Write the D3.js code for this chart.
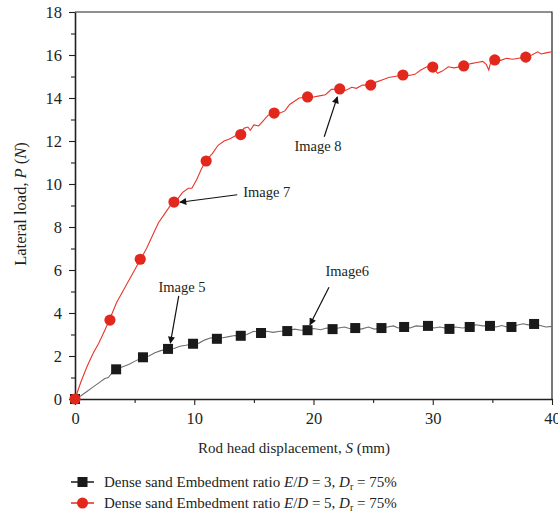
<!DOCTYPE html>
<html>
<head>
<meta charset="utf-8">
<script src="https://cdn.jsdelivr.net/npm/d3@7"></script>
<style>
  body { margin: 0; background: #fff; }
  text { font-family: "Liberation Serif", "DejaVu Serif", serif; fill: #231f20; }
</style>
</head>
<body>
<div id="chart"></div>
<script>
// axis ticks
const xMajor = [0, 10, 20, 30, 40];
const xMinor = [5, 15, 25, 35];
const yMajor = [0, 2, 4, 6, 8, 10, 12, 14, 16, 18];
const yMinor = [1, 3, 5, 7, 9, 11, 13, 15, 17];

// E/D = 5 curve (red)
const redLine = [
  [0,0],[0.5,0.8],[1,1.5],[1.5,2.1],[2,2.6],[2.5,3.2],[2.9,3.7],[3.5,4.5],[4,5.0],[4.5,5.5],
  [5,6.0],[5.5,6.5],[6,7.0],[6.5,7.6],[7,8.2],[7.5,8.6],[8,9.0],[8.4,9.15],[9,9.6],[9.5,9.8],
  [9.8,9.8],[10.2,10.2],[10.6,10.7],[11,11.1],[11.5,11.4],[12,11.8],[12.5,12.0],[13,12.1],
  [13.8,12.35],[14.2,12.6],[14.5,12.65],[14.7,12.5],[15,12.75],[15.4,12.7],[15.8,12.95],
  [16.2,13.2],[16.7,13.3],[17.2,13.3],[17.6,13.4],[18,13.7],[18.4,13.85],[18.8,14.0],
  [19.5,14.05],[20,14.05],[20.5,14.1],[21,14.15],[21.5,14.4],[22.2,14.42],[22.7,14.35],
  [23.2,14.5],[23.6,14.45],[24.1,14.6],[24.8,14.6],[25.3,14.75],[25.8,14.85],[26.3,14.95],
  [26.8,15.0],[27.5,15.07],[28,15.05],[28.5,15.1],[29,15.3],[29.5,15.45],[30,15.44],
  [30.4,15.15],[30.8,15.25],[31.3,15.45],[31.8,15.4],[32.6,15.49],[33.2,15.6],[33.7,15.65],
  [34.2,15.7],[34.5,15.55],[34.7,15.3],[34.9,15.75],[35.2,15.77],[35.7,15.75],[36.2,15.85],
  [36.7,15.8],[37.2,15.85],[37.8,15.9],[38.3,16.0],[38.8,16.15],[39.1,16.05],[39.5,16.1],[40,16.15]
];
const redMarks = [
  [0,0],[2.93,3.67],[5.47,6.5],[8.3,9.16],[11.0,11.07],[13.9,12.3],[16.7,13.3],[19.5,14.05],
  [22.2,14.42],[24.8,14.6],[27.5,15.07],[30.0,15.44],[32.6,15.49],[35.2,15.77],[37.8,15.9]
];

// E/D = 3 curve (black / grey)
const blackLine = [
  [0,0],[0.5,0.15],[1,0.35],[1.5,0.55],[2,0.75],[2.5,0.95],[2.8,1.0],[3,1.15],[3.45,1.38],
  [4,1.5],[4.5,1.6],[5,1.75],[5.7,1.94],[6.2,2.0],[6.7,2.15],[7.2,2.25],[7.8,2.33],[8.3,2.35],
  [8.8,2.45],[9.3,2.5],[9.9,2.57],[10.4,2.6],[10.9,2.75],[11.4,2.85],[11.9,2.8],[12.4,2.85],
  [12.9,2.9],[13.4,2.95],[13.9,2.94],[14.4,3.0],[15,3.15],[15.6,3.07],[16.1,3.15],[16.6,3.1],
  [17.2,3.15],[17.8,3.16],[18.4,3.25],[19,3.2],[19.5,3.2],[20,3.28],[20.6,3.22],[21.1,3.3],
  [21.6,3.25],[22.1,3.3],[22.6,3.35],[23,3.28],[23.5,3.3],[24,3.25],[24.6,3.35],[25.1,3.25],
  [25.7,3.3],[26.2,3.35],[26.7,3.4],[27.1,3.3],[27.6,3.35],[28.1,3.3],[28.6,3.4],[29.1,3.38],
  [29.6,3.4],[30.1,3.3],[30.6,3.35],[31.4,3.26],[31.9,3.35],[32.5,3.3],[33.1,3.35],[33.6,3.45],
  [34.2,3.4],[34.8,3.4],[35.3,3.35],[35.8,3.42],[36.2,3.35],[36.6,3.35],[37.2,3.45],[37.6,3.5],
  [38,3.45],[38.5,3.49],[39,3.42],[39.5,3.35],[40,3.38]
];
const blackMarks = [
  [0,0],[3.45,1.38],[5.7,1.94],[7.8,2.33],[9.9,2.57],[11.9,2.8],[13.9,2.94],[15.6,3.07],
  [17.8,3.16],[19.5,3.2],[21.6,3.25],[23.5,3.3],[25.7,3.3],[27.6,3.35],[29.6,3.4],[31.4,3.26],
  [33.1,3.35],[34.8,3.4],[36.6,3.35],[38.5,3.49]
];

// annotations: label, label position and arrow (data coords)
const notes = [
  { label: 'Image 5', tx: 7.0, ty: 5.0, from: [8.7, 4.8], to: [8.0, 2.6] },
  { label: 'Image6', tx: 21.0, ty: 5.7, from: [21.3, 5.2], to: [19.7, 3.45] },
  { label: 'Image 7', tx: 14.1, ty: 9.4, from: [13.6, 9.5], to: [8.8, 9.15] },
  { label: 'Image 8', tx: 18.4, ty: 11.55, from: [20.9, 12.2], to: [22.0, 14.05] }
];

const legendItems = [
  { ed: '3', shape: 'square', color: '#1a1a1a' },
  { ed: '5', shape: 'circle', color: '#e2281c' }
];

const W = 558, H = 515;
const margin = { left: 75, top: 12, right: 6, bottom: 116 };
const innerW = W - margin.left - margin.right;
const innerH = H - margin.top - margin.bottom;

const svg = d3.select('#chart').append('svg')
  .attr('width', W).attr('height', H);

const defs = svg.append('defs');
defs.append('marker')
  .attr('id', 'arrow')
  .attr('viewBox', '0 0 10 10')
  .attr('refX', 9).attr('refY', 5)
  .attr('markerWidth', 9).attr('markerHeight', 7)
  .attr('markerUnits', 'userSpaceOnUse')
  .attr('orient', 'auto')
  .append('path').attr('d', 'M0,0L10,5L0,10Z').attr('fill', '#111');

const g = svg.append('g').attr('transform', `translate(${margin.left},${margin.top})`);

const x = d3.scaleLinear().domain([0, 40]).range([0, innerW]);
const y = d3.scaleLinear().domain([0, 18]).range([innerH, 0]);

// frame top / right
g.append('path')
  .attr('d', `M0,0H${innerW}V${innerH}`)
  .attr('fill', 'none').attr('stroke', '#231f20').attr('stroke-width', 1.2);

// x axis
g.append('g').attr('transform', `translate(0,${innerH})`)
  .call(d3.axisBottom(x).tickValues(xMajor).tickSize(6).tickSizeOuter(0).tickPadding(7));
g.append('g').attr('transform', `translate(0,${innerH})`)
  .call(d3.axisBottom(x).tickValues(xMinor).tickSize(4).tickSizeOuter(0).tickFormat(''))
  .call(s => s.select('.domain').remove());

// y axis
g.append('g')
  .call(d3.axisLeft(y).tickValues(yMajor).tickSize(6).tickSizeOuter(0).tickPadding(7));
g.append('g')
  .call(d3.axisLeft(y).tickValues(yMinor).tickSize(4).tickSizeOuter(0).tickFormat(''))
  .call(s => s.select('.domain').remove());

g.selectAll('.domain').attr('stroke', '#231f20').attr('stroke-width', 1.6);
g.selectAll('.tick line').attr('stroke', '#231f20').attr('stroke-width', 1.1);
g.selectAll('.tick text')
  .style('font-family', '"Liberation Serif", serif')
  .style('font-size', '16.5px').attr('fill', '#231f20');

// lines
const line = d3.line().x(d => x(d[0])).y(d => y(d[1]));
g.append('path').datum(blackLine).attr('d', line)
  .attr('fill', 'none').attr('stroke', '#6e6e6e').attr('stroke-width', 1.1);
g.append('path').datum(redLine).attr('d', line)
  .attr('fill', 'none').attr('stroke', '#e8352a').attr('stroke-width', 1.1);

// markers
g.selectAll('.sq').data(blackMarks).join('rect')
  .attr('class', 'sq')
  .attr('x', d => x(d[0]) - 5).attr('y', d => y(d[1]) - 5)
  .attr('width', 10).attr('height', 10).attr('fill', '#1a1a1a');
g.selectAll('.dot').data(redMarks).join('circle')
  .attr('class', 'dot')
  .attr('cx', d => x(d[0])).attr('cy', d => y(d[1]))
  .attr('r', 5.6).attr('fill', '#e2281c');

// annotations
notes.forEach(n => {
  g.append('line')
    .attr('x1', x(n.from[0])).attr('y1', y(n.from[1]))
    .attr('x2', x(n.to[0])).attr('y2', y(n.to[1]))
    .attr('stroke', '#111').attr('stroke-width', 1.2)
    .attr('marker-end', 'url(#arrow)');
  g.append('text')
    .attr('x', x(n.tx)).attr('y', y(n.ty))
    .attr('font-size', 14.5)
    .text(n.label);
});

// axis titles
const yTitle = svg.append('text')
  .attr('transform', `translate(26,${margin.top + 192}) rotate(-90)`)
  .attr('text-anchor', 'middle').attr('font-size', 16.5);
yTitle.append('tspan').text('Lateral load, ');
yTitle.append('tspan').attr('font-style', 'italic').text('P');
yTitle.append('tspan').text(' (');
yTitle.append('tspan').attr('font-style', 'italic').text('N');
yTitle.append('tspan').text(')');

const xTitle = svg.append('text')
  .attr('x', 294).attr('y', 453)
  .attr('text-anchor', 'middle').attr('font-size', 15);
xTitle.append('tspan').text('Rod head displacement, ');
xTitle.append('tspan').attr('font-style', 'italic').text('S');
xTitle.append('tspan').text(' (mm)');

// legend
const legend = svg.append('g').attr('transform', 'translate(71,482)');
legendItems.forEach((item, i) => {
  const row = legend.append('g').attr('transform', `translate(0,${i * 21})`);
  row.append('line').attr('x1', 0).attr('x2', 23).attr('y1', 0).attr('y2', 0)
    .attr('stroke', item.color).attr('stroke-width', 1.5);
  if (item.shape === 'square') {
    row.append('rect').attr('x', 6.5).attr('y', -5).attr('width', 10).attr('height', 10)
      .attr('fill', item.color);
  } else {
    row.append('circle').attr('cx', 11.5).attr('cy', 0).attr('r', 5.5).attr('fill', item.color);
  }
  const t = row.append('text').attr('x', 33).attr('y', 5).attr('font-size', 15);
  t.append('tspan').text('Dense sand Embedment ratio ');
  t.append('tspan').attr('font-style', 'italic').text('E');
  t.append('tspan').text('/');
  t.append('tspan').attr('font-style', 'italic').text('D');
  t.append('tspan').text(` = ${item.ed}, `);
  t.append('tspan').attr('font-style', 'italic').text('D');
  t.append('tspan').attr('font-size', 10).attr('dy', 3).text('r');
  t.append('tspan').attr('dy', -3).text(' = 75%');
});
</script>
</body>
</html>
